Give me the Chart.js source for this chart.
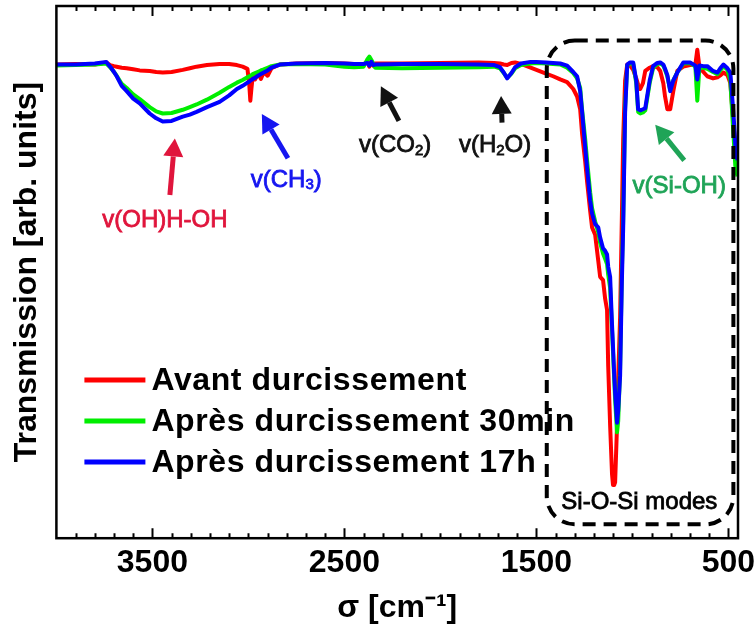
<!DOCTYPE html>
<html>
<head>
<meta charset="utf-8">
<script src="https://cdn.jsdelivr.net/npm/chart.js@4"></script>
<style>
  html, body { margin: 0; padding: 0; background: #fff; }
  #wrap { width: 754px; height: 639px; }
</style>
</head>
<body>
<div id="wrap"><canvas id="ftirChart"></canvas></div>
<script>
// Nombres d'onde (cm-1) communs aux trois spectres
const wavenumbers = [4000, 3900, 3800, 3740, 3720, 3700, 3686, 3660, 3634, 3600, 3566, 3514, 3480, 3446, 3400, 3342, 3305, 3270, 3216, 3150,
  3100, 3060, 3030, 3005, 2995, 2990, 2984, 2977, 2965, 2950, 2935, 2920, 2900, 2880, 2836, 2750, 2600, 2500, 2450, 2400,
  2380, 2370, 2360, 2350, 2340, 2200, 2000, 1800, 1720, 1690, 1670, 1652, 1630, 1611, 1580, 1530, 1500, 1450, 1413, 1376,
  1340, 1308, 1288, 1272, 1262, 1246, 1236, 1220, 1210, 1194, 1178, 1168, 1153, 1142, 1132, 1126, 1116, 1106, 1101, 1095,
  1090, 1080, 1074, 1064, 1055, 1048, 1038, 1027, 1012, 996, 980, 970, 959, 945, 933, 910, 892, 870, 855, 839,
  830, 818, 803, 787, 766, 735, 700, 672, 662, 651, 630, 610, 580, 557, 540, 526, 505, 490, 474, 464, 453];

// Transmission (unités arbitraires)
const avantValues = [89.0, 89.1, 89.0, 89.4, 88.9, 88.7, 88.6, 88.4, 88.3, 88.1, 87.9, 87.8, 87.6, 87.5, 87.6, 88.0, 88.3, 88.6, 88.9, 89.1,
  89.1, 88.9, 88.6, 88.2, 85.0, 82.2, 84.6, 87.0, 86.2, 87.4, 86.3, 87.6, 86.9, 88.3, 89.0, 89.2, 89.3, 89.2, 89.1, 89.1,
  89.4, 88.6, 89.6, 88.8, 89.2, 89.2, 89.3, 89.4, 89.3, 89.2, 89.0, 88.9, 89.3, 89.4, 89.1, 88.4, 88.0, 87.3, 86.8, 86.2,
  85.7, 84.4, 83.0, 80.6, 76.0, 70.8, 67.0, 61.5, 58.4, 57.0, 52.2, 49.1, 48.5, 45.0, 42.9, 32.3, 21.2, 12.0, 10.0, 10.0,
  10.5, 21.2, 30.0, 41.6, 60.0, 75.0, 86.0, 89.0, 88.8, 88.0, 86.4, 85.2, 84.4, 85.5, 87.8, 88.4, 88.7, 88.5, 87.8, 85.5,
  83.0, 80.6, 80.6, 84.0, 87.8, 88.6, 88.9, 89.0, 91.8, 88.6, 87.6, 86.8, 86.4, 86.6, 87.0, 87.5, 87.0, 85.5, 78.0, 74.0, 72.0];

const apres30Values = [88.8, 88.9, 89.0, 89.2, 88.5, 87.6, 86.9, 85.4, 84.6, 83.4, 82.5, 81.0, 80.2, 79.8, 79.9, 80.5, 81.0, 81.5, 82.4, 83.7,
  84.8, 85.6, 86.1, 86.6, 86.8, 86.9, 87.0, 87.2, 87.4, 87.6, 87.9, 88.1, 88.4, 88.7, 89.0, 89.1, 89.0, 88.6, 88.5, 88.6,
  90.0, 90.5, 89.9, 89.2, 88.4, 88.3, 88.4, 88.5, 88.6, 88.3, 87.4, 86.5, 87.3, 88.3, 88.9, 89.2, 89.3, 89.2, 89.1, 89.0,
  88.4, 87.4, 86.4, 84.6, 80.5, 75.0, 71.0, 65.0, 62.0, 59.5, 57.5, 55.5, 53.5, 52.5, 51.5, 49.5, 47.0, 39.0, 35.0, 30.0,
  26.0, 19.9, 22.0, 32.0, 50.0, 60.0, 81.0, 88.8, 89.2, 89.2, 85.5, 80.1, 79.8, 80.0, 80.4, 85.5, 88.4, 89.1, 89.2, 88.8,
  88.0, 86.8, 84.2, 86.0, 87.5, 89.2, 89.3, 88.6, 82.2, 88.5, 88.4, 88.2, 87.6, 87.2, 88.0, 88.7, 88.0, 86.0, 76.0, 70.0, 68.0];

const apres17Values = [89.0, 89.0, 89.2, 89.5, 88.6, 87.6, 86.8, 85.0, 84.0, 82.6, 81.7, 79.8, 78.9, 78.3, 78.4, 79.2, 79.6, 80.1, 81.0, 82.0,
  83.2, 84.4, 85.0, 85.6, 85.8, 86.0, 86.1, 86.3, 86.5, 86.9, 87.2, 87.5, 87.9, 88.4, 89.0, 89.2, 89.3, 89.2, 89.1, 89.1,
  89.3, 88.8, 89.5, 88.9, 89.0, 89.1, 89.1, 89.0, 88.9, 88.5, 87.5, 86.4, 87.4, 88.5, 89.2, 89.5, 89.5, 89.4, 89.3, 89.2,
  88.8, 87.6, 86.8, 84.0, 80.1, 73.5, 69.5, 63.5, 61.0, 59.0, 58.4, 56.5, 54.5, 54.0, 53.3, 51.0, 49.1, 40.0, 36.0, 31.0,
  27.3, 21.7, 24.0, 30.5, 48.0, 58.4, 80.0, 89.0, 89.4, 89.4, 86.0, 80.6, 80.4, 80.6, 80.8, 86.0, 88.7, 89.3, 89.4, 89.0,
  88.2, 87.0, 84.0, 86.0, 87.5, 89.4, 89.4, 88.8, 86.2, 88.8, 88.7, 88.7, 87.8, 87.5, 88.4, 89.0, 88.3, 87.5, 80.0, 74.0, 71.0];

const seriesLabels = ["Avant durcissement", "Après durcissement 30min", "Après durcissement 17h"];
const seriesColors = ["#ff0000", "#00ee00", "#0000ff"];
const tickValues = [3500, 2500, 1500, 500];

const FONT = "'Liberation Sans', Arial, sans-serif";

// Annotations (positions en coordonnées de données)
const annotations = [
  { parts: [["v(OH)H-OH"]], x: 3435, y: 59.7, color: "#e0153c", arrow: [3409, 64.5, 3383, 75.1] },
  { parts: [["v(CH"], ["3", true], [")"]], x: 2803, y: 67.3, color: "#1616f0", arrow: [2794, 71.4, 2930, 79.7] },
  { parts: [["v(CO"], ["2", true], [")"]], x: 2236, y: 73.8, color: "#111111", arrow: [2216, 78.4, 2310, 84.9] },
  { parts: [["v(H"], ["2", true], ["O)"]], x: 1715, y: 73.8, color: "#111111", arrow: [1679, 78.1, 1684, 83.1] },
  { parts: [["v(Si-OH)"]], x: 756, y: 66.2, color: "#1fa457", arrow: [730, 71.0, 881, 77.7] },
  { parts: [["Si-O-Si modes"]], x: 964, y: 6.7, color: "#000000" }
];
const modesBox = { from: 1446, to: 474, top: 93.5, bottom: 2.6 };

function drawRich(ctx, parts, cx, cy, size, color) {
  const big = "normal " + size + "px " + FONT;
  const small = "normal " + Math.round(size * 0.62) + "px " + FONT;
  let total = 0;
  parts.forEach(p => { ctx.font = p[1] ? small : big; total += ctx.measureText(p[0]).width; });
  let x = cx - total / 2;
  ctx.fillStyle = color;
  ctx.strokeStyle = color;
  ctx.lineWidth = 0.8;
  ctx.textBaseline = "middle";
  ctx.textAlign = "left";
  parts.forEach(p => {
    ctx.font = p[1] ? small : big;
    const ty = p[1] ? cy + size * 0.22 : cy;
    ctx.fillText(p[0], x, ty);
    ctx.strokeText(p[0], x, ty);
    x += ctx.measureText(p[0]).width;
  });
}

function drawArrow(ctx, x1, y1, x2, y2, color) {
  const ang = Math.atan2(y2 - y1, x2 - x1);
  const len = 18, half = 10;
  const bx = x2 - len * Math.cos(ang), by = y2 - len * Math.sin(ang);
  ctx.strokeStyle = color;
  ctx.fillStyle = color;
  ctx.lineWidth = 5;
  ctx.beginPath();
  ctx.moveTo(x1, y1);
  ctx.lineTo(bx, by);
  ctx.stroke();
  ctx.beginPath();
  ctx.moveTo(x2, y2);
  ctx.lineTo(bx + half * Math.sin(ang), by - half * Math.cos(ang));
  ctx.lineTo(bx - half * Math.sin(ang), by + half * Math.cos(ang));
  ctx.closePath();
  ctx.fill();
}

const decorPlugin = {
  id: "decor",
  afterDraw(chart) {
    const ctx = chart.ctx;
    const xs = chart.scales.x, ys = chart.scales.y;
    const a = chart.chartArea;
    ctx.save();

    // cadre + graduations vers l'intérieur
    ctx.strokeStyle = "#000";
    ctx.lineWidth = 2.5;
    ctx.strokeRect(a.left, a.top, a.right - a.left, a.bottom - a.top);
    ctx.lineWidth = 2;
    for (let v = 500; v < 4000; v += 100) {
      const px = Math.round(xs.getPixelForValue(v)) + 0.5;
      const len = tickValues.includes(v) ? 10 : 5;
      ctx.beginPath();
      ctx.moveTo(px, a.bottom); ctx.lineTo(px, a.bottom - len);
      ctx.moveTo(px, a.top); ctx.lineTo(px, a.top + len);
      ctx.stroke();
    }

    // cadre pointillé "Si-O-Si modes"
    const bl = xs.getPixelForValue(modesBox.from), br = xs.getPixelForValue(modesBox.to);
    const bt = ys.getPixelForValue(modesBox.top), bb = ys.getPixelForValue(modesBox.bottom);
    ctx.setLineDash([13, 8]);
    ctx.lineWidth = 4;
    ctx.beginPath();
    ctx.roundRect(bl, bt, br - bl, bb - bt, 28);
    ctx.stroke();
    ctx.setLineDash([]);

    // annotations
    annotations.forEach(an => {
      if (an.arrow) {
        drawArrow(ctx, xs.getPixelForValue(an.arrow[0]), ys.getPixelForValue(an.arrow[1]),
          xs.getPixelForValue(an.arrow[2]), ys.getPixelForValue(an.arrow[3]), an.color);
      }
      drawRich(ctx, an.parts, xs.getPixelForValue(an.x), ys.getPixelForValue(an.y), 24, an.color);
    });

    // légende
    const lx = a.left + 28, rows = [380, 421, 462];
    chart.data.datasets.forEach((ds, i) => {
      ctx.strokeStyle = ds.borderColor;
      ctx.lineWidth = 5;
      ctx.beginPath();
      ctx.moveTo(lx, rows[i]); ctx.lineTo(lx + 61, rows[i]);
      ctx.stroke();
      ctx.fillStyle = "#000";
      ctx.font = "bold 32px " + FONT;
      ctx.letterSpacing = "0.6px";
      ctx.textBaseline = "middle";
      ctx.textAlign = "left";
      ctx.fillText(ds.label, lx + 67, rows[i] + 1);
      ctx.letterSpacing = "0px";
    });
    ctx.restore();
  }
};

function makeSeries(values) {
  return wavenumbers.map((w, i) => ({ x: w, y: values[i] }));
}

const ctx = document.getElementById("ftirChart").getContext("2d");
const ftirChart = new Chart(ctx, {
  type: "line",
  data: {
    datasets: [avantValues, apres30Values, apres17Values].map((vals, i) => ({
      label: seriesLabels[i],
      data: makeSeries(vals),
      borderColor: seriesColors[i],
      backgroundColor: seriesColors[i],
      borderWidth: 4,
      pointRadius: 0,
      tension: 0,
      borderJoinStyle: "round",
      order: 3 - i
    }))
  },
  options: {
    responsive: true,
    maintainAspectRatio: false,
    animation: false,
    layout: { padding: { top: 6, right: 16, left: 0, bottom: 0 } },
    plugins: { legend: { display: false }, tooltip: { enabled: false } },
    scales: {
      x: {
        type: "linear",
        reverse: true,
        min: 450,
        max: 4000,
        afterBuildTicks: scale => { scale.ticks = tickValues.map(v => ({ value: v })); },
        afterFit: scale => { scale.paddingLeft = 0; scale.paddingRight = 0; },
        grid: { display: false, drawTicks: false },
        border: { display: false },
        ticks: {
          color: "#000", font: { family: FONT, size: 32, weight: "bold" }, padding: 6, maxRotation: 0, autoSkip: false,
          callback: v => String(v)
        },
        title: { display: true, text: "σ [cm⁻¹]", color: "#000", font: { family: FONT, size: 32, weight: "bold" }, padding: { top: 0, bottom: 12 } }
      },
      y: {
        min: 0,
        max: 100,
        grid: { display: false, drawTicks: false },
        border: { display: false },
        ticks: { display: false },
        title: { display: true, text: "Transmission [arb. units]", color: "#000", font: { family: FONT, size: 32, weight: "bold" }, padding: { top: 8, bottom: 10 } }
      }
    }
  },
  plugins: [decorPlugin]
});
</script>
</body>
</html>
